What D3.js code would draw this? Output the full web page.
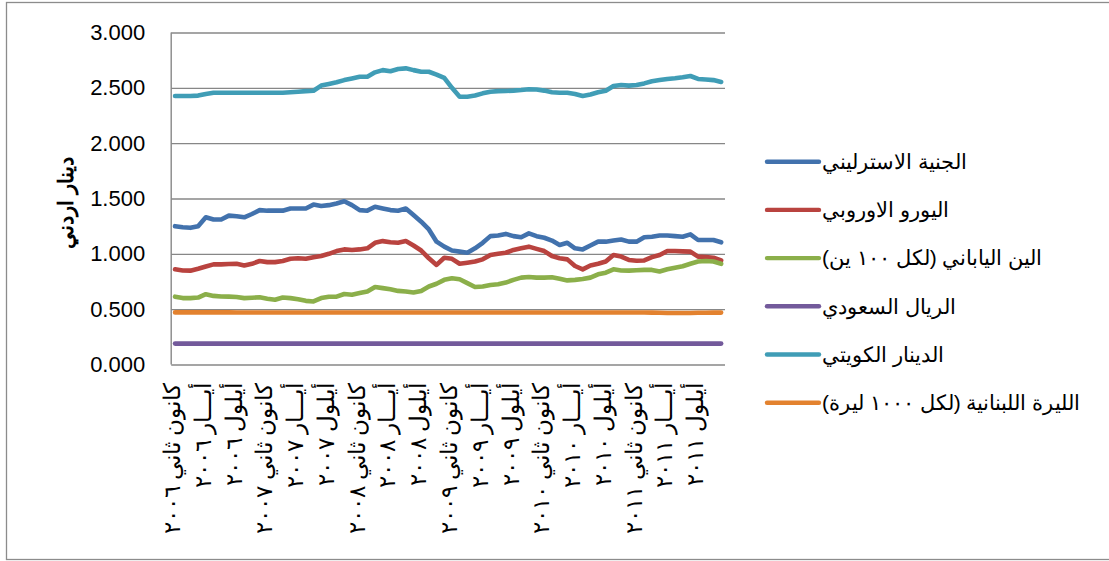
<!DOCTYPE html>
<html>
<head>
<meta charset="utf-8">
<script src="https://cdn.jsdelivr.net/npm/d3@7"></script>
<style>
  html, body { margin: 0; padding: 0; background: #fff; }
  svg { display: block; }
  text { font-family: "Liberation Sans", Arial, sans-serif; fill: #000; }
</style>
</head>
<body>
<svg id="chart" width="1109" height="561"></svg>
<script>
const months = [
  "2006-01","2006-02","2006-03","2006-04","2006-05","2006-06","2006-07","2006-08","2006-09","2006-10","2006-11","2006-12",
  "2007-01","2007-02","2007-03","2007-04","2007-05","2007-06","2007-07","2007-08","2007-09","2007-10","2007-11","2007-12",
  "2008-01","2008-02","2008-03","2008-04","2008-05","2008-06","2008-07","2008-08","2008-09","2008-10","2008-11","2008-12",
  "2009-01","2009-02","2009-03","2009-04","2009-05","2009-06","2009-07","2009-08","2009-09","2009-10","2009-11","2009-12",
  "2010-01","2010-02","2010-03","2010-04","2010-05","2010-06","2010-07","2010-08","2010-09","2010-10","2010-11","2010-12",
  "2011-01","2011-02","2011-03","2011-04","2011-05","2011-06","2011-07","2011-08","2011-09","2011-10","2011-11","2011-12"
];

const tickMonths = ["2006-01","2006-05","2006-09","2007-01","2007-05","2007-09","2008-01","2008-05","2008-09",
                    "2009-01","2009-05","2009-09","2010-01","2010-05","2010-09","2011-01","2011-05","2011-09"];
const tickLabels = [
  "كانون ثاني ٢٠٠٦","أيـــار ٢٠٠٦","أيلول ٢٠٠٦",
  "كانون ثاني ٢٠٠٧","أيـــار ٢٠٠٧","أيلول ٢٠٠٧",
  "كانون ثاني ٢٠٠٨","أيـــار ٢٠٠٨","أيلول ٢٠٠٨",
  "كانون ثاني ٢٠٠٩","أيـــار ٢٠٠٩","أيلول ٢٠٠٩",
  "كانون ثاني ٢٠١٠","أيـــار ٢٠١٠","أيلول ٢٠١٠",
  "كانون ثاني ٢٠١١","أيـــار ٢٠١١","أيلول ٢٠١١"
];

const yTicks = [0, 0.5, 1.0, 1.5, 2.0, 2.5, 3.0];

const seriesNames = [
  "الجنية الاسترليني",
  "اليورو الاوروبي",
  "الين الياباني (لكل ١٠٠ ين)",
  "الريال السعودي",
  "الدينار الكويتي",
  "الليرة اللبنانية (لكل ١٠٠٠ ليرة)"
];
const seriesColors = ["#4272AD", "#B9433F", "#8BAF4A", "#735A9B", "#409DB6", "#E3822F"];

const sterling = [
  1.25,1.24,1.235,1.25,1.33,1.31,1.31,1.345,1.34,1.33,1.36,1.395,
  1.39,1.39,1.39,1.41,1.41,1.41,1.445,1.432,1.44,1.455,1.475,1.44,
  1.395,1.39,1.425,1.41,1.395,1.39,1.41,1.35,1.29,1.22,1.11,1.065,
  1.03,1.02,1.01,1.05,1.10,1.16,1.165,1.18,1.16,1.15,1.185,1.16,
  1.145,1.12,1.08,1.10,1.05,1.04,1.075,1.11,1.11,1.12,1.13,1.11,
  1.11,1.15,1.155,1.165,1.165,1.16,1.155,1.176,1.125,1.125,1.125,1.104
];
const euro = [
  0.86,0.85,0.848,0.865,0.885,0.905,0.905,0.908,0.91,0.895,0.91,0.935,
  0.925,0.925,0.935,0.955,0.96,0.955,0.97,0.98,1.0,1.025,1.04,1.035,
  1.04,1.05,1.10,1.115,1.105,1.10,1.115,1.075,1.03,0.96,0.90,0.965,
  0.955,0.91,0.92,0.93,0.95,0.99,1.0,1.01,1.035,1.05,1.065,1.045,
  1.025,0.98,0.96,0.95,0.89,0.86,0.895,0.91,0.93,0.99,0.975,0.945,
  0.938,0.94,0.97,0.99,1.025,1.025,1.022,1.02,0.975,0.972,0.965,0.94
];
const yen = [
  0.613,0.60,0.60,0.605,0.635,0.62,0.615,0.613,0.61,0.60,0.603,0.607,
  0.595,0.585,0.605,0.60,0.59,0.575,0.57,0.60,0.612,0.613,0.637,0.63,
  0.645,0.66,0.70,0.69,0.68,0.665,0.66,0.65,0.665,0.705,0.73,0.765,
  0.78,0.77,0.735,0.70,0.705,0.718,0.725,0.74,0.765,0.785,0.79,0.785,
  0.785,0.788,0.775,0.76,0.765,0.772,0.785,0.815,0.83,0.86,0.85,0.848,
  0.852,0.855,0.855,0.84,0.86,0.875,0.888,0.91,0.93,0.935,0.93,0.91
];
const riyal = [
  0.189,0.189,0.189,0.189,0.189,0.189,0.189,0.189,0.189,0.189,0.189,0.189,
  0.189,0.189,0.189,0.189,0.189,0.189,0.189,0.189,0.189,0.189,0.189,0.189,
  0.189,0.189,0.189,0.189,0.189,0.189,0.189,0.189,0.189,0.189,0.189,0.189,
  0.189,0.189,0.189,0.189,0.189,0.189,0.189,0.189,0.189,0.189,0.189,0.189,
  0.189,0.189,0.189,0.189,0.189,0.189,0.189,0.189,0.189,0.189,0.189,0.189,
  0.189,0.189,0.189,0.189,0.189,0.189,0.189,0.189,0.189,0.189,0.189,0.189
];
const dinar = [
  2.426,2.426,2.426,2.43,2.445,2.456,2.456,2.456,2.456,2.456,2.456,2.456,
  2.456,2.456,2.456,2.46,2.465,2.47,2.474,2.52,2.535,2.55,2.57,2.585,
  2.60,2.60,2.64,2.66,2.65,2.67,2.676,2.66,2.646,2.645,2.62,2.59,
  2.50,2.42,2.42,2.43,2.45,2.465,2.47,2.472,2.475,2.48,2.487,2.485,
  2.475,2.46,2.456,2.456,2.445,2.426,2.44,2.46,2.474,2.516,2.525,2.52,
  2.525,2.54,2.56,2.57,2.58,2.586,2.595,2.607,2.58,2.575,2.57,2.553
];
const lira = [
  0.471,0.471,0.471,0.471,0.471,0.471,0.471,0.471,0.470,0.470,0.470,0.470,
  0.470,0.470,0.470,0.470,0.470,0.470,0.470,0.470,0.470,0.470,0.470,0.470,
  0.470,0.470,0.470,0.470,0.470,0.470,0.470,0.470,0.470,0.470,0.470,0.470,
  0.470,0.470,0.470,0.470,0.470,0.470,0.470,0.470,0.470,0.470,0.470,0.470,
  0.470,0.470,0.470,0.470,0.470,0.470,0.470,0.470,0.470,0.470,0.470,0.470,
  0.470,0.470,0.469,0.467,0.466,0.466,0.466,0.466,0.467,0.468,0.469,0.469
];

const yTitle = "دينار اردني";

const seriesValues = [sterling, euro, yen, riyal, dinar, lira];

const svg = d3.select("#chart");
const plot = { left: 171.2, right: 725, top: 32.5, bottom: 364.5 };

// chart area border
svg.append("rect")
  .attr("x", 6.5).attr("y", 2.5)
  .attr("width", 1110).attr("height", 557)
  .attr("fill", "none").attr("stroke", "#8c8c8c").attr("stroke-width", 1.3);

const x = d3.scaleBand().domain(months).range([plot.left, plot.right]).padding(0);
const xc = m => x(m) + x.bandwidth() / 2;
const y = d3.scaleLinear().domain([0, 3]).range([plot.bottom, plot.top]);

// gridlines via axis
const grid = svg.append("g")
  .attr("transform", `translate(${plot.left},0)`)
  .call(d3.axisRight(y).tickValues(yTicks).tickSize(plot.right - plot.left).tickFormat(""));
grid.select(".domain").remove();
grid.selectAll("line").attr("stroke", "#878787").attr("stroke-width", 1.4);

// y axis line
svg.append("line")
  .attr("x1", plot.left).attr("x2", plot.left)
  .attr("y1", y(3)).attr("y2", y(0))
  .attr("stroke", "#878787").attr("stroke-width", 1.4);

// y tick labels
const yAxis = svg.append("g")
  .attr("transform", `translate(${plot.left},0)`)
  .call(d3.axisLeft(y).tickValues(yTicks).tickSize(0).tickPadding(26).tickFormat(d3.format(".3f")));
yAxis.select(".domain").remove();
yAxis.selectAll("text")
  .style("font-family", "'Liberation Sans', Arial, sans-serif")
  .style("font-size", "22px").attr("fill", "#000");

// x labels
const xAxis = svg.append("g")
  .attr("transform", `translate(0,${plot.bottom})`)
  .call(d3.axisBottom(x).tickValues(tickMonths).tickSize(0).tickFormat((d) => tickLabels[tickMonths.indexOf(d)]));
xAxis.select(".domain").remove();
xAxis.selectAll("text")
  .style("font-family", "'Liberation Sans', Arial, sans-serif")
  .style("font-size", "23px")
  .attr("fill", "#000")
  .attr("text-anchor", "end")
  .attr("direction", "ltr")
  .attr("transform", "translate(-3,18) rotate(-90)")
  .attr("x", 0).attr("y", 0).attr("dy", "0.35em");

// lines
const line = d3.line()
  .x((d, i) => xc(months[i]))
  .y(d => y(d));

svg.append("g").selectAll("path")
  .data(seriesValues)
  .join("path")
  .attr("d", d => line(d))
  .attr("fill", "none")
  .attr("stroke", (d, i) => seriesColors[i])
  .attr("stroke-width", 4.6)
  .attr("stroke-linejoin", "round")
  .attr("stroke-linecap", "round");

// y title
svg.append("text")
  .attr("transform", "translate(66,203) rotate(-90)")
  .attr("text-anchor", "middle")
  .attr("dy", "0.35em")
  .style("font-size", "21px")
  .style("font-weight", "bold")
  .text(yTitle);

// legend
const legendY = d3.scaleLinear().domain([0, 5]).range([161.7, 402.7]);
const lg = svg.append("g").selectAll("g")
  .data(seriesNames)
  .join("g")
  .attr("transform", (d, i) => `translate(0,${legendY(i)})`);
lg.append("line")
  .attr("x1", 767).attr("x2", 819)
  .attr("stroke", (d, i) => seriesColors[i])
  .attr("stroke-width", 4.4)
  .attr("stroke-linecap", "round");
lg.append("text")
  .attr("x", 822)
  .attr("dy", "0.35em")
  .attr("text-anchor", "end")
  .attr("direction", "rtl")
  .style("font-size", "21px")
  .text(d => d);
</script>
</body>
</html>
